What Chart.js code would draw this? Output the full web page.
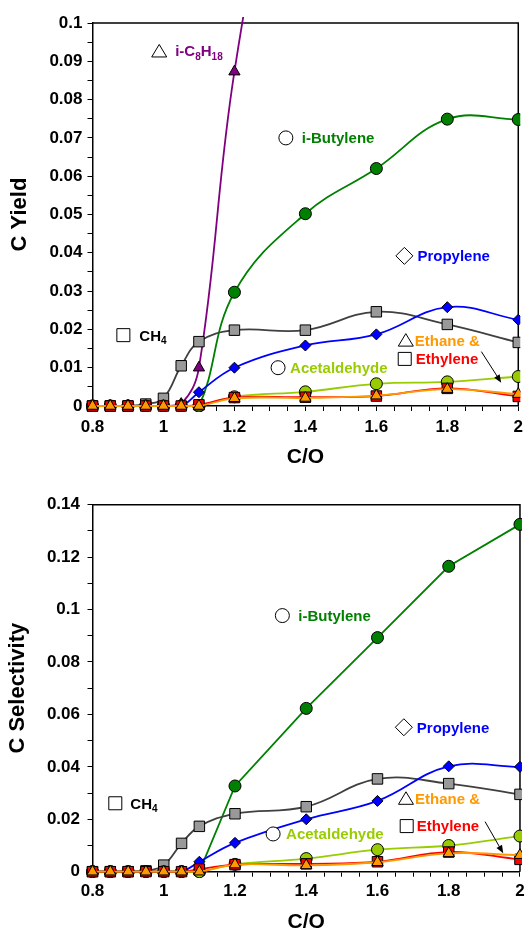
<!DOCTYPE html>
<html><head><meta charset="utf-8">
<script src="https://cdn.jsdelivr.net/npm/chart.js@4"></script>
<style>
html,body{margin:0;padding:0;background:#fff;overflow:hidden;width:529px;height:932px}
canvas{position:absolute;left:0}
#c1{top:0}
#c2{top:470px}
</style></head><body>
<canvas id="c1" width="529" height="470"></canvas>
<canvas id="c2" width="529" height="462"></canvas>
<script>
// ---------- data ----------
const coRatio = [0.8, 0.85, 0.9, 0.95, 1.0, 1.05, 1.1, 1.2, 1.4, 1.6, 1.8, 2.0];

// C Yield (top panel)
const yieldEthane       = [0,0,0,0,0,0,0,     0.0020,0.0021,0.0027,0.0044,0.0031];
const yieldEthylene     = [0,0,0,0,0,0,0.0003,0.0022,0.0023,0.0026,0.0046,0.0025];
const yieldAcetaldehyde = [0,0,0,0,0,0,0,     0.0024,0.0037,0.0058,0.0063,0.0077];
const yieldPropylene    = [0,0,0,0,0,0,0.0036,0.0100,0.0158,0.0187,0.0258,0.0225];
const yieldCH4          = [0,0,0,0.0005,0.0020,0.0105,0.0168,0.0198,0.0198,0.0246,0.0213,0.0166];
const yieldIButylene    = [0,0,0,0,0,0,0,     0.0297,0.0502,0.0620,0.0749,0.0748];
const yieldIC8H18       = [0,0,0,0,0,0.0005,0.0100,0.0873,0.19,null,null,null];

// C Selectivity (bottom panel)
const selEthane       = [0,0,0,0,0,0,0,     0.0027,0.0024,0.0036,0.0070,0.0063];
const selEthylene     = [0,0,0,0,0,0,0.0010,0.0027,0.0030,0.0038,0.0075,0.0047];
const selAcetaldehyde = [0,0,0,0,0,0,0,     0.0028,0.0050,0.0084,0.0100,0.0136];
const selPropylene    = [0,0,0,0,0,0,0.0038,0.0110,0.0200,0.0270,0.0402,0.0400];
const selCH4          = [0,0,0,0.0003,0.0025,0.0108,0.0173,0.0221,0.0248,0.0354,0.0336,0.0295];
const selIButylene    = [0,0,0,0,0,0,0,     0.0327,0.0623,0.0893,0.1165,0.1325];

// axis labels
const xTitle = 'C/O';
const yieldTitle = 'C Yield';
const selTitle = 'C Selectivity';

// in-plot labels (positions in data units)
const yieldLabels = [
  {x:0.988, y:0.0927, sym:'triangle', gap:16, color:'#800080', parts:[['i-C'],['8',1],['H'],['18',1]]},
  {x:1.345, y:0.0700, sym:'circle',   gap:16, color:'#008000', parts:[['i-Butylene']]},
  {x:1.679, y:0.0392, sym:'diamond',  gap:13, color:'#0000ff', parts:[['Propylene']]},
  {x:0.887, y:0.0185, sym:'square',   gap:16, color:'#000000', parts:[['CH'],['4',1]]},
  {x:1.323, y:0.0100, sym:'circle',   gap:12, color:'#99cc00', parts:[['Acetaldehyde']]},
  {x:1.683, y:0.0172, sym:'triangle', gap:9,  color:'#ff9900', parts:[['Ethane &']]},
  {x:1.680, y:0.0123, sym:'square',   gap:11, color:'#ff0000', parts:[['Ethylene']]}
];
const yieldArrow = {x1:1.896, y1:0.0142, x2:1.952, y2:0.0061};

const selLabels = [
  {x:1.333, y:0.0977, sym:'circle',   gap:16, color:'#008000', parts:[['i-Butylene']]},
  {x:1.674, y:0.0551, sym:'diamond',  gap:13, color:'#0000ff', parts:[['Propylene']]},
  {x:0.864, y:0.0261, sym:'square',   gap:15, color:'#000000', parts:[['CH'],['4',1]]},
  {x:1.307, y:0.0144, sym:'circle',   gap:13, color:'#99cc00', parts:[['Acetaldehyde']]},
  {x:1.680, y:0.0280, sym:'triangle', gap:9,  color:'#ff9900', parts:[['Ethane &']]},
  {x:1.682, y:0.0174, sym:'square',   gap:10, color:'#ff0000', parts:[['Ethylene']]}
];
const selArrow = {x1:1.902, y1:0.0191, x2:1.953, y2:0.0070};

// ---------- helpers ----------
const FONT = "'Liberation Sans', Arial, Helvetica, sans-serif";
const pts = arr => coRatio.map((x, i) => ({x, y: arr[i]}));
const fmt = v => String(Number(v.toFixed(4)));
const CLIP = {left: 12, top: 6, right: 2, bottom: 6};

function series(label, arr, style, radius, fill, line, tension, extra) {
  return Object.assign({
    label, data: pts(arr), pointStyle: style, pointRadius: radius,
    pointBackgroundColor: fill, pointBorderColor: '#000', pointBorderWidth: 1,
    borderColor: line, borderWidth: 1.8, tension, fill: false, clip: CLIP,
    cubicInterpolationMode: 'default'
  }, extra || {});
}

function drawSymbol(ctx, type, x, y) {
  ctx.save();
  ctx.fillStyle = '#fff'; ctx.strokeStyle = '#000'; ctx.lineWidth = 1;
  ctx.beginPath();
  if (type === 'circle') ctx.arc(x, y, 7, 0, Math.PI * 2);
  else if (type === 'square') ctx.rect(x - 6.5, y - 6.5, 13, 13);
  else if (type === 'diamond') { ctx.moveTo(x, y - 8.5); ctx.lineTo(x + 8.5, y); ctx.lineTo(x, y + 8.5); ctx.lineTo(x - 8.5, y); ctx.closePath(); }
  else if (type === 'triangle') { ctx.moveTo(x, y - 6.5); ctx.lineTo(x + 7.5, y + 6); ctx.lineTo(x - 7.5, y + 6); ctx.closePath(); }
  ctx.fill(); ctx.stroke();
  ctx.restore();
}

function annotPlugin(labels, arrow) {
  return {
    id: 'annot',
    beforeDatasetsDraw(chart) {
      const {ctx, chartArea: a} = chart;
      ctx.save();
      ctx.strokeStyle = '#000'; ctx.lineWidth = 1.5;
      ctx.beginPath();
      ctx.moveTo(a.left, a.top); ctx.lineTo(a.right, a.top); ctx.lineTo(a.right, a.bottom);
      ctx.stroke();
      ctx.restore();
    },
    afterDatasetsDraw(chart) {
      const {ctx, scales: {x, y}} = chart;
      labels.forEach(l => {
        const px = x.getPixelForValue(l.x), py = y.getPixelForValue(l.y);
        drawSymbol(ctx, l.sym, px, py);
        ctx.save();
        ctx.fillStyle = l.color;
        ctx.textBaseline = 'alphabetic';
        let cx = px + l.gap;
        const base = py + 5.4;
        l.parts.forEach(([t, sub]) => {
          ctx.font = (sub ? 'bold 10px ' : 'bold 15px ') + FONT;
          ctx.fillText(t, cx, sub ? base + 3.5 : base);
          cx += ctx.measureText(t).width;
        });
        ctx.restore();
      });
      // arrow
      const x1 = x.getPixelForValue(arrow.x1), y1 = y.getPixelForValue(arrow.y1);
      const x2 = x.getPixelForValue(arrow.x2), y2 = y.getPixelForValue(arrow.y2);
      const ang = Math.atan2(y2 - y1, x2 - x1);
      ctx.save();
      ctx.strokeStyle = '#000'; ctx.fillStyle = '#000'; ctx.lineWidth = 1;
      ctx.beginPath(); ctx.moveTo(x1, y1); ctx.lineTo(x2 - 5 * Math.cos(ang), y2 - 5 * Math.sin(ang)); ctx.stroke();
      ctx.beginPath();
      ctx.moveTo(x2, y2);
      ctx.lineTo(x2 - 8 * Math.cos(ang) + 3.2 * Math.sin(ang), y2 - 8 * Math.sin(ang) - 3.2 * Math.cos(ang));
      ctx.lineTo(x2 - 8 * Math.cos(ang) - 3.2 * Math.sin(ang), y2 - 8 * Math.sin(ang) + 3.2 * Math.cos(ang));
      ctx.closePath(); ctx.fill();
      ctx.restore();
    }
  };
}

function makeOptions(cfg) {
  const tickFont = {family: FONT, size: 17, weight: 'bold'};
  const grid = {display: true, drawOnChartArea: false, drawTicks: true, tickLength: 5, color: '#000', lineWidth: 1};
  return {
    responsive: false, animation: false, devicePixelRatio: 1,
    layout: {padding: {top: cfg.padTop, right: 8, left: 0, bottom: 0}},
    plugins: {legend: {display: false}, tooltip: {enabled: false}},
    scales: {
      x: {
        type: 'linear', min: 0.8, max: 2,
        ticks: {stepSize: 0.05, autoSkip: false, maxRotation: 0, minRotation: 0, color: '#000', font: tickFont,
                padding: cfg.xTickPad,
                callback: v => Math.abs(v * 5 - Math.round(v * 5)) < 1e-6 ? fmt(v) : ''},
        grid, border: {display: true, color: '#000', width: 1.5},
        title: {display: true, text: xTitle, color: '#000', font: {family: FONT, size: 21, weight: 'bold', lineHeight: 1},
                padding: {top: 0, bottom: cfg.xTitlePadB}},
        afterFit: s => { s.height = cfg.xHeight; }
      },
      y: {
        type: 'linear', min: 0, max: cfg.yMax,
        ticks: {stepSize: cfg.yStep / 2, autoSkip: false, color: '#000', font: tickFont, padding: cfg.yTickPad,
                callback: v => Math.abs(v / cfg.yStep - Math.round(v / cfg.yStep)) < 1e-6 ? fmt(v) : ''},
        grid, border: {display: true, color: '#000', width: 1.5},
        title: {display: true, text: cfg.yTitle, color: '#000', font: {family: FONT, size: 22, weight: 'bold', lineHeight: 1},
                padding: {top: cfg.yTitlePadT, bottom: 0}},
        afterFit: s => { s.width = 92.5; }
      }
    }
  };
}

// ---------- top chart: C Yield ----------
new Chart(document.getElementById('c1'), {
  type: 'line',
  data: {datasets: [
    series('Ethane', yieldEthane, 'triangle', 6.5, '#ff9900', '#ff9900', 0.4),
    series('Ethylene', yieldEthylene, 'rect', 7.4, '#ff0000', '#ff0000', 0.4),
    series('Acetaldehyde', yieldAcetaldehyde, 'circle', 6, '#99cc00', '#99cc00', 0.4),
    series('Propylene', yieldPropylene, 'rectRot', 5.5, '#0000ff', '#0000ff', 0.4),
    series('CH4', yieldCH4, 'rect', 7.4, '#999999', '#404040', 0.4),
    series('i-Butylene', yieldIButylene, 'circle', 6, '#008000', '#008000', 0.4),
    series('i-C8H18', yieldIC8H18, 'triangle', 6.5, '#800080', '#800080', 0.4)
  ]},
  options: makeOptions({padTop: 23, xTickPad: 6, xTitlePadB: 2, xHeight: 64, yMax: 0.1, yStep: 0.01,
                        yTickPad: 5, yTitle: yieldTitle, yTitlePadT: 9}),
  plugins: [annotPlugin(yieldLabels, yieldArrow)]
});

// ---------- bottom chart: C Selectivity ----------
new Chart(document.getElementById('c2'), {
  type: 'line',
  data: {datasets: [
    series('Ethane', selEthane, 'triangle', 6.5, '#ff9900', '#ff9900', 0.4),
    series('Ethylene', selEthylene, 'rect', 7.4, '#ff0000', '#ff0000', 0.4),
    series('Acetaldehyde', selAcetaldehyde, 'circle', 6, '#99cc00', '#99cc00', 0.4),
    series('Propylene', selPropylene, 'rectRot', 5.5, '#0000ff', '#0000ff', 0.4),
    series('CH4', selCH4, 'rect', 7.4, '#999999', '#404040', 0.4),
    series('i-Butylene', selIButylene, 'circle', 6, '#008000', '#008000', 0)
  ]},
  options: makeOptions({padTop: 34.7, xTickPad: 4.3, xTitlePadB: -1, xHeight: 60.3, yMax: 0.14, yStep: 0.02,
                        yTickPad: 7.5, yTitle: selTitle, yTitlePadT: 7}),
  plugins: [annotPlugin(selLabels, selArrow)]
});
</script>
</body></html>
